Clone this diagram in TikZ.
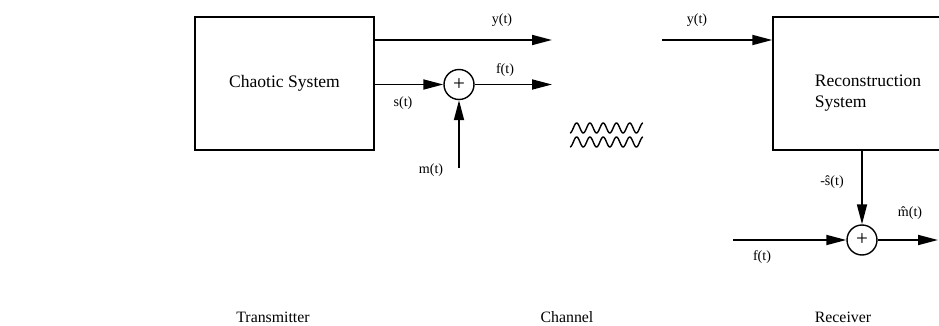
\documentclass[tikz,border=0pt]{standalone}
\usepackage{fontspec}
\setmainfont{Liberation Serif}
\usetikzlibrary{arrows.meta}

\tikzstyle{block}=[rectangle, draw, thick, inner sep=0.1cm,
                   minimum width=3.58cm, minimum height=2.66cm]
\tikzstyle{adder}=[circle, draw, thick, minimum size=0.6cm, inner sep=0,
                   font=\large]
\tikzstyle{flow}=[-{Triangle[length=0.4cm, width=0.2cm]}, line width=1pt]
\tikzstyle{siglabel}=[font=\footnotesize, inner sep=0]
\tikzstyle{title}=[font=\small, anchor=base]

\begin{document}
\begin{tikzpicture}

  \useasboundingbox (0, 0) rectangle (18.78, 6.52);
  \clip (0, 0) rectangle (18.78, 6.52);

  %%%%%%%%%%%%%%%%%%%%%%%%%%%%%%
  % transmitter
  \node (Chaotic) at (5.69, 4.85) [block] {Chaotic System};
  \node (Adder1) at (9.18, 4.83) [adder] {+};

  \coordinate (y_out) at (11.04, 5.72);
  \coordinate (f_out) at (11.04, 4.83);
  \coordinate (m_in) at (9.18, 3.16);

  \draw [flow] (Chaotic.east |- y_out) -- (y_out);
  \draw [flow] (Chaotic.east |- Adder1) -- (Adder1);
  \draw [flow] (Adder1) -- (f_out);
  \draw [flow] (m_in) -- (Adder1);

  \node (lab_y_out) at (10.04, 6.12) [siglabel] {y(t)};
  \node (lab_f_out) at (10.10, 5.12) [siglabel] {f(t)};
  \node (lab_s) at (8.06, 4.46) [siglabel] {s(t)};
  \node (lab_m) at (8.62, 3.12) [siglabel] {m(t)};

  %%%%%%%%%%%%%%%%%%%%%%%%%%%%%%
  % channel
  \foreach \h in {3.96, 3.68}
    \draw [thick, domain=0:1.46, samples=120, smooth]
      plot (11.40+\x, {\h - 0.1*cos(\x/0.2655*360)});

  %%%%%%%%%%%%%%%%%%%%%%%%%%%%%%
  % receiver
  \node (Recon) at (17.36, 4.85) [block, minimum width=3.8cm] {};
  \node (Recon_text) at (17.36, 4.66) [align=left] {Reconstruction\\System};
  \node (Adder2) at (17.24, 1.72) [adder] {+};

  \coordinate (y_in) at (13.24, 5.72);
  \coordinate (f_in) at (14.66, 1.72);
  \coordinate (m_hat) at (18.76, 1.72);

  \draw [flow] (y_in) -- (Recon.west |- y_in);
  \draw [flow] (Recon.south -| Adder2) -- (Adder2);
  \draw [flow] (f_in) -- (Adder2);
  \draw [flow] (Adder2) -- (m_hat);

  \node (lab_y_in) at (13.94, 6.12) [siglabel] {y(t)};
  \node (lab_s_hat) at (16.64, 2.88) [siglabel] {-ŝ(t)};
  \node (lab_m_hat) at (18.20, 2.26) [siglabel] {\^{m}(t)};
  \node (lab_f_in) at (15.24, 1.38) [siglabel] {f(t)};

  %%%%%%%%%%%%%%%%%%%%%%%%%%%%%%
  % titles
  \node (Transmitter) at (5.46, 0.06) [title] {Transmitter};
  \node (Channel) at (11.34, 0.06) [title] {Channel};
  \node (Receiver) at (16.86, 0.06) [title] {Receiver};

\end{tikzpicture}
\end{document}
